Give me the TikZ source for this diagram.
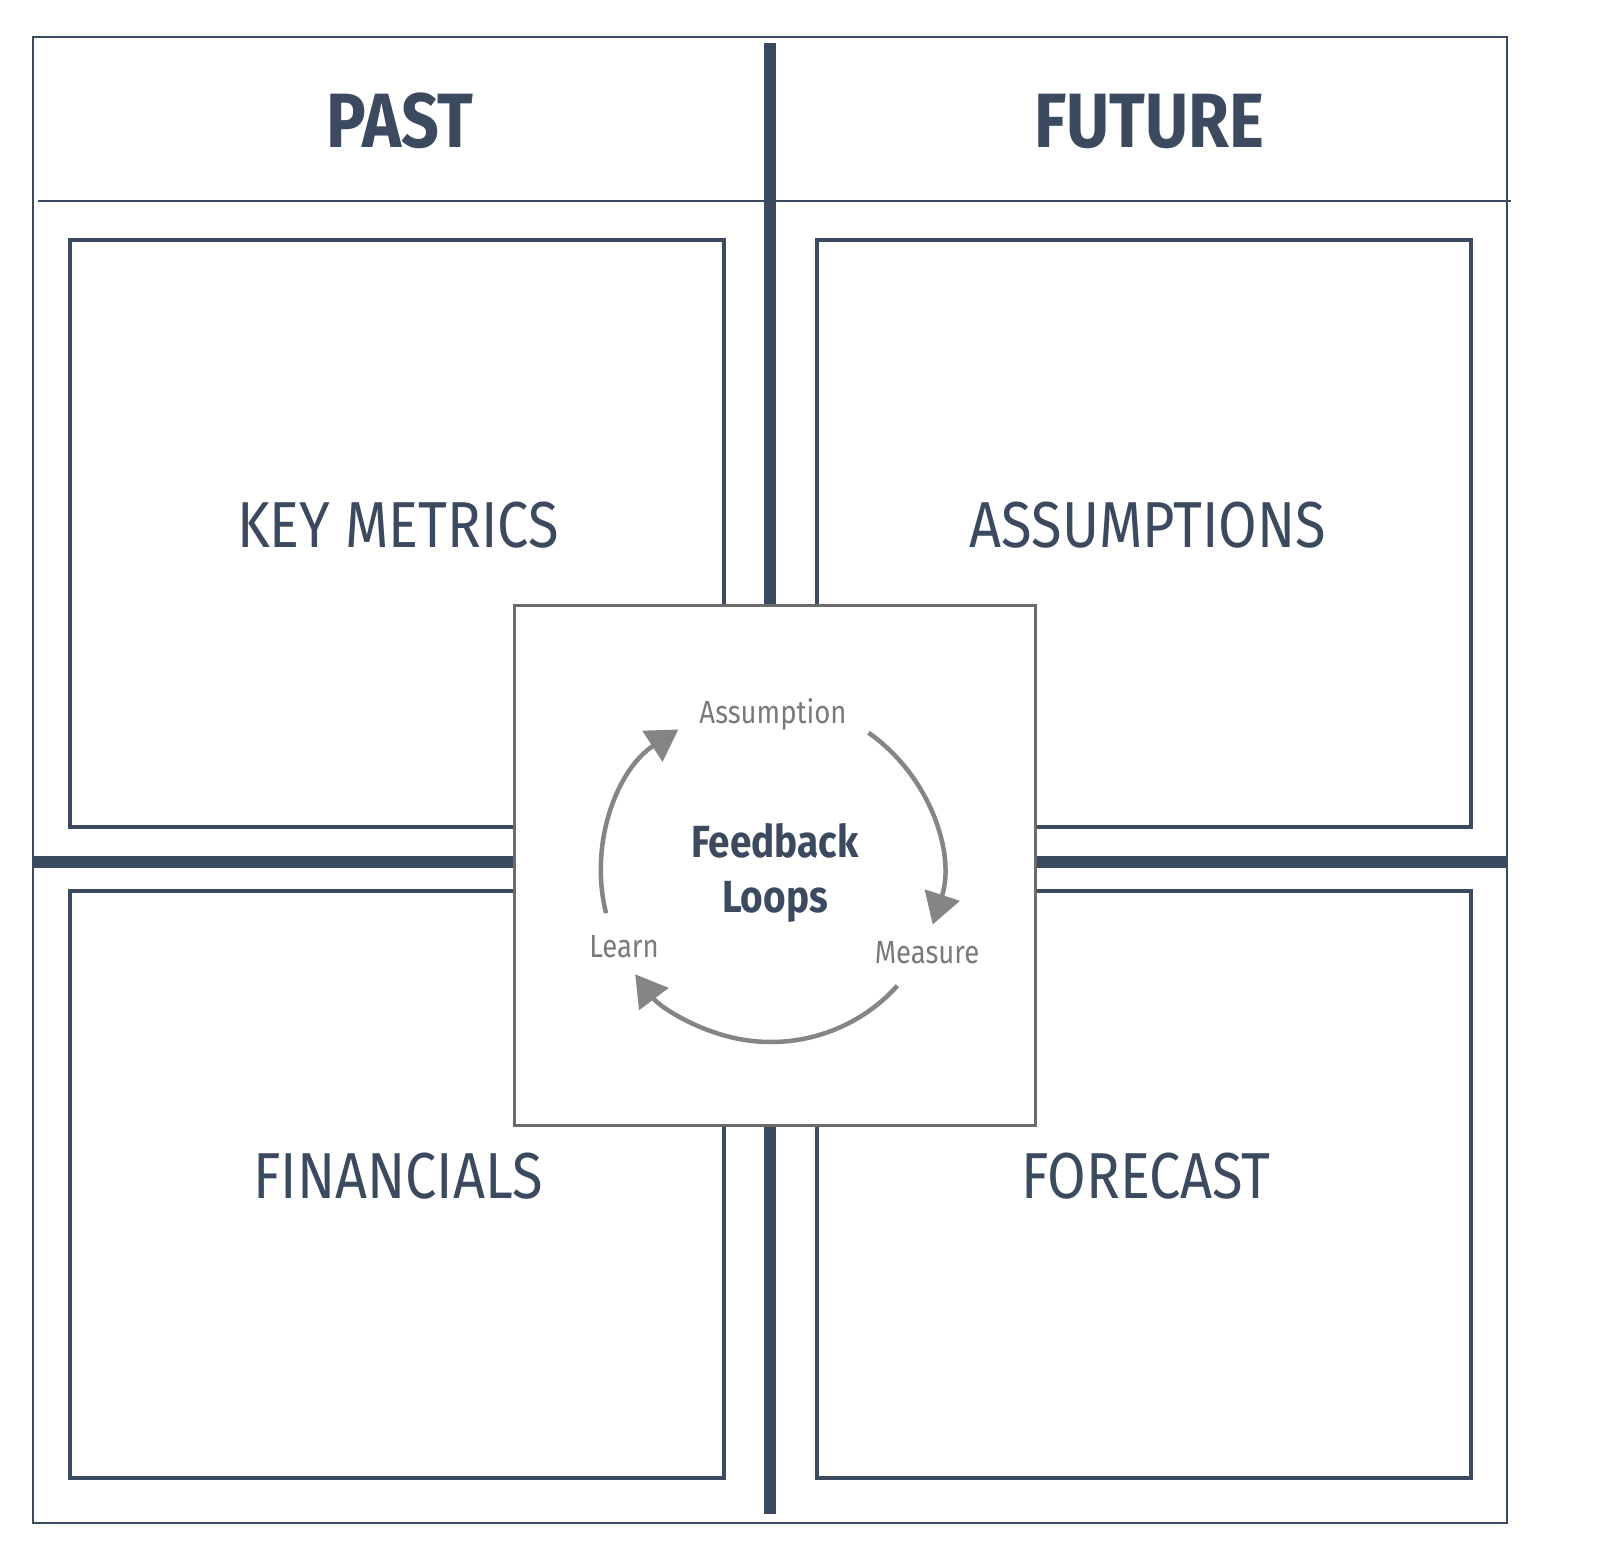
\documentclass[tikz,border=0pt]{standalone}
\usepackage{fontspec}
\usepackage{tikz}
\usetikzlibrary{arrows.meta}

\newfontfamily\dinfont{Fira Sans}[FakeStretch=0.86]
\definecolor{navy}{HTML}{3B4A5F}
\definecolor{loopgray}{HTML}{858585}
\definecolor{boxgray}{HTML}{6B6B6B}
\definecolor{labelgray}{HTML}{7A7A7A}

\begin{document}
\begin{tikzpicture}[x=1pt,y=-1pt,
    frame/.style={draw=navy, line width=2.5pt},
    bar/.style={draw=navy, line width=12pt},
    panel/.style={draw=navy, line width=4pt},
    title/.style={text=navy, inner sep=0pt, font=\dinfont\bfseries\fontsize{77}{80}\selectfont},
    field/.style={text=navy, inner sep=0pt, font=\dinfont\fontsize{65}{70}\selectfont},
    stage/.style={text=labelgray, inner sep=0pt, anchor=base, font=\dinfont\fontsize{32}{36}\selectfont},
    cycle/.style={draw=loopgray, line width=4.5pt, -{Triangle[length=31pt,width=36pt]}}]
    \useasboundingbox (0,0) rectangle (1600,1562);

    % outer frame and header
    \draw[frame] (33,37) rectangle (1507,1523);
    \draw[frame] (38,201) -- (1511,201);

    \draw[bar] (770,43) -- (770,1514);
    \draw[bar] (33,862) -- (1507,862);

    \draw[panel] (70,240) rectangle (724,827);
    \draw[panel] (817,240) rectangle (1471,827);
    \draw[panel] (70,891) rectangle (724,1478);
    \draw[panel] (817,891) rectangle (1471,1478);

    \node[title] (past) at (400,121) {PAST};
    \node[title] (future) at (1149,121) {FUTURE};

    \node[field] (metrics) at (398,525) {KEY METRICS};
    \node[field] (assumptions) at (1148,525) {ASSUMPTIONS};
    \node[field] (financials) at (398,1176) {FINANCIALS};
    \node[field] (forecast) at (1146,1176) {FORECAST};

    % feedback loop in the middle (y points down, so angles are negated)
    \node[draw=boxgray, line width=3pt, fill=white, minimum width=521pt, minimum height=520pt] (loopbox) at (774.5,865) {};
    \coordinate (hub) at (771,872);

    \draw[cycle] ([shift={(-194:170)}]hub) arc[start angle=-194, end angle=-123, radius=170];
    \draw[cycle] ([shift={(-55:170)}]hub) arc[start angle=-55, end angle=18, radius=170];
    \draw[cycle] ([shift={(42:170)}]hub) arc[start angle=42, end angle=143, radius=170];

    \node[stage] (assumption) at (773,723) {Assumption};
    \node[stage] (measure) at (927,963) {Measure};
    \node[stage] (learn) at (624,957) {Learn};

    \node[text=navy, inner sep=0pt, anchor=base, font=\dinfont\bfseries\fontsize{45}{55}\selectfont] (feedback) at (775,857) {Feedback};
    \node[text=navy, inner sep=0pt, anchor=base, font=\dinfont\bfseries\fontsize{45}{55}\selectfont] (loops) at (775,912) {Loops};
\end{tikzpicture}
\end{document}
